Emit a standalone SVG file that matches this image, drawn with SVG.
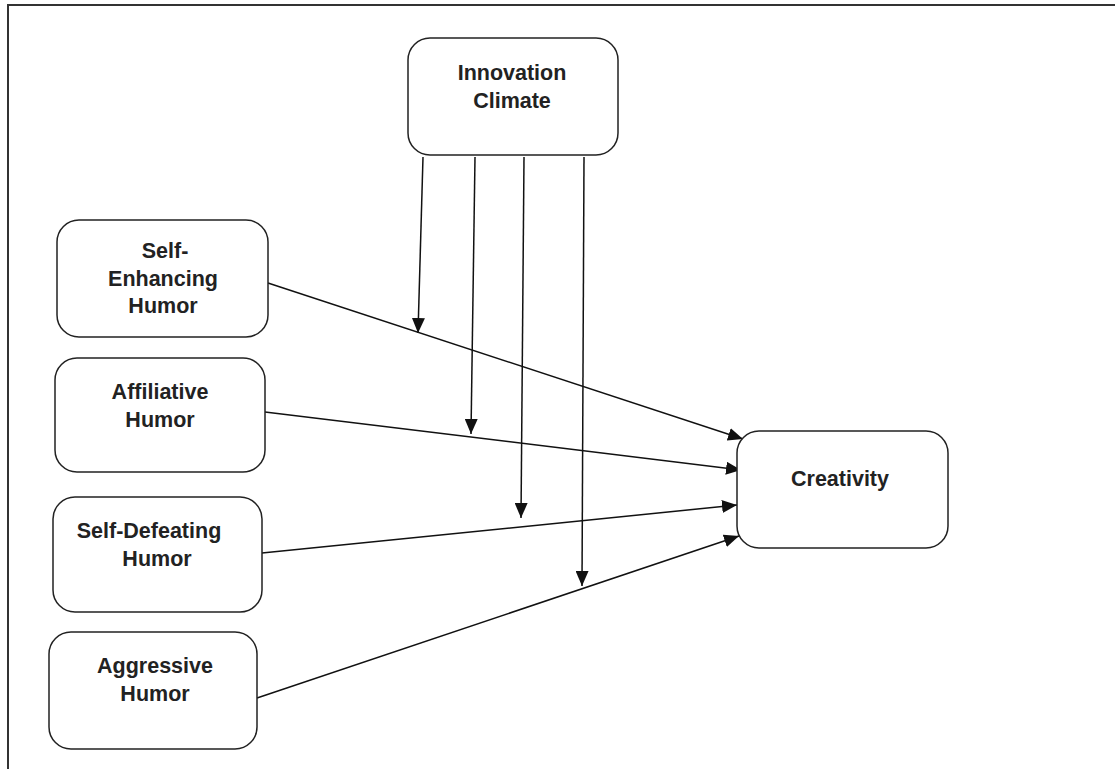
<svg xmlns="http://www.w3.org/2000/svg" width="1115" height="769" viewBox="0 0 1115 769">
<defs>
<style>
.box{fill:#fff;stroke:#222;stroke-width:1.5}
.lbl{font-family:"Liberation Sans",Arial,sans-serif;font-weight:bold;font-size:21.5px;fill:#222;text-anchor:middle}
.edge{stroke:#111;stroke-width:1.5;fill:none;marker-end:url(#arr)}
</style>
<marker id="arr" markerUnits="userSpaceOnUse" markerWidth="15" markerHeight="13" viewBox="0 0 15 13" refX="15" refY="6.5" orient="auto">
<path d="M0,0 L15,6.5 L0,13 Z" fill="#111"/>
</marker>
</defs>
<rect width="1115" height="769" fill="#fff"/>
<path d="M8,769 V5 H1115" fill="none" stroke="#333" stroke-width="2"/>
<g id="connectors">
<line class="edge" x1="423" y1="157" x2="418" y2="333"/>
<line class="edge" x1="475" y1="157" x2="471" y2="434"/>
<line class="edge" x1="524" y1="157" x2="521" y2="518"/>
<line class="edge" x1="584" y1="157" x2="582" y2="586"/>
<line class="edge" x1="268" y1="283" x2="743" y2="439"/>
<line class="edge" x1="265" y1="412" x2="741" y2="470"/>
<line class="edge" x1="262" y1="553" x2="737" y2="505"/>
<line class="edge" x1="257" y1="698" x2="739" y2="536"/>
</g>
<g id="innovation-climate">
<rect class="box" x="408" y="38" width="210" height="117" rx="22"/>
<text class="lbl" x="512" y="80">Innovation</text>
<text class="lbl" x="512" y="108">Climate</text>
</g>
<g id="self-enhancing-humor">
<rect class="box" x="57" y="220" width="211" height="117" rx="22"/>
<text class="lbl" x="165" y="258">Self-</text>
<text class="lbl" x="163" y="286">Enhancing</text>
<text class="lbl" x="163" y="313">Humor</text>
</g>
<g id="affiliative-humor">
<rect class="box" x="55" y="358" width="210" height="114" rx="22"/>
<text class="lbl" x="160" y="399">Affiliative</text>
<text class="lbl" x="160" y="427">Humor</text>
</g>
<g id="self-defeating-humor">
<rect class="box" x="53" y="497" width="209" height="115" rx="22"/>
<text class="lbl" x="149" y="538">Self-Defeating</text>
<text class="lbl" x="157" y="566">Humor</text>
</g>
<g id="aggressive-humor">
<rect class="box" x="49" y="632" width="208" height="117" rx="22"/>
<text class="lbl" x="155" y="673">Aggressive</text>
<text class="lbl" x="155" y="701">Humor</text>
</g>
<g id="creativity">
<rect class="box" x="737" y="431" width="211" height="117" rx="22"/>
<text class="lbl" x="840" y="486">Creativity</text>
</g>
</svg>
